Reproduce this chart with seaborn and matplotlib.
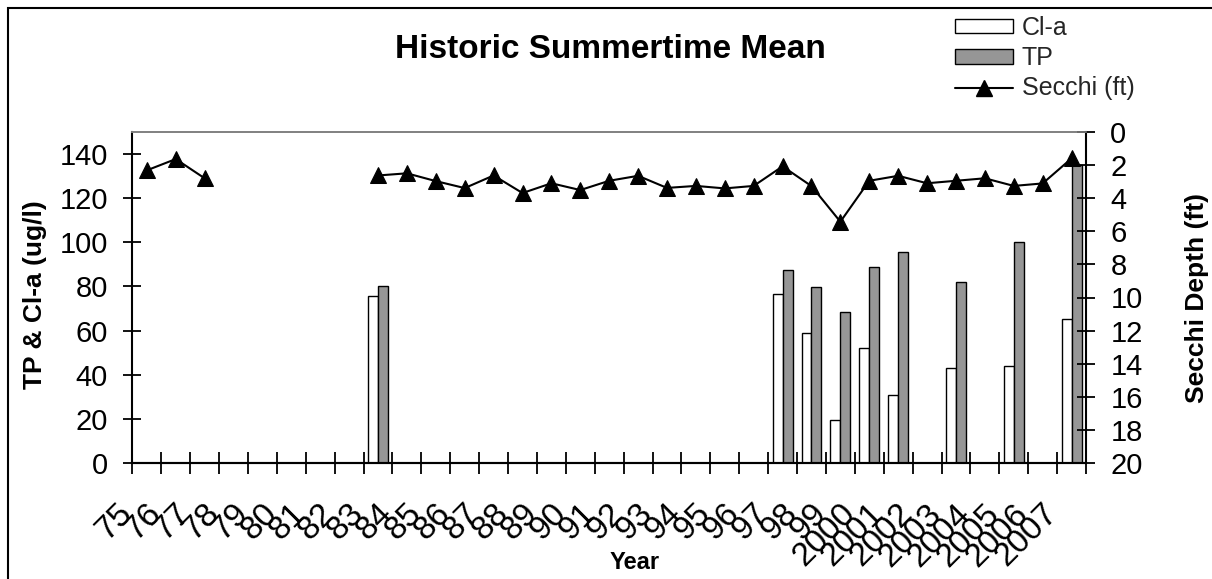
import numpy as np
import pandas as pd
import matplotlib
matplotlib.use("Agg")
import matplotlib.pyplot as plt
import matplotlib.transforms as mtransforms
from matplotlib.patches import Patch, Rectangle
from matplotlib.lines import Line2D
import seaborn as sns

# ---- data ----
years = ['75', '76', '77', '78', '79', '80', '81', '82', '83', '84', '85', '86',
         '87', '88', '89', '90', '91', '92', '93', '94', '95', '96', '97', '98',
         '99', '2000', '2001', '2002', '2003', '2004', '2005', '2006', '2007']
nan = np.nan
cla = [nan, nan, nan, nan, nan, nan, nan, nan, 75.5, nan, nan, nan,
       nan, nan, nan, nan, nan, nan, nan, nan, nan, nan, 76.6, 59.0,
       19.7, 52.1, 31.0, nan, 43.1, nan, 44.0, nan, 65.3]
tp = [nan, nan, nan, nan, nan, nan, nan, nan, 80.0, nan, nan, nan,
      nan, nan, nan, nan, nan, nan, nan, nan, nan, nan, 87.4, 79.8,
      68.4, 88.8, 95.6, nan, 82.0, nan, 100.0, nan, 135.0]
secchi = [2.33, 1.65, 2.81, nan, nan, nan, nan, nan, 2.64, 2.51, 2.98, 3.40,
          2.64, 3.70, 3.11, 3.52, 2.96, 2.66, 3.39, 3.27, 3.42, 3.27, 2.09, 3.28,
          5.43, 2.96, 2.66, 3.11, 2.96, 2.81, 3.27, 3.12, 1.61]
series_names = ['Cl-a', 'TP']
left_ticks = [0, 20, 40, 60, 80, 100, 120, 140]
right_ticks = [0, 2, 4, 6, 8, 10, 12, 14, 16, 18, 20]

# ---- tables ----
rows = []
for name, vals in zip(series_names, [cla, tp]):
    for y, v in zip(years, vals):
        if not np.isnan(v):
            rows.append({'year': y, 'series': name, 'value': v})
bar_df = pd.DataFrame(rows)

sec_rows = []
seg = 0
prev_nan = False
for y, v in zip(years, secchi):
    if np.isnan(v):
        prev_nan = True
        continue
    if prev_nan:
        seg += 1
        prev_nan = False
    sec_rows.append({'pos': years.index(y), 'secchi': v, 'seg': seg})
sec_df = pd.DataFrame(sec_rows)

# ---- style ----
sns.set_theme(style='white')
plt.rcParams['font.family'] = ['Liberation Sans', 'DejaVu Sans']
plt.rcParams.update({
    'xtick.bottom': True, 'ytick.left': True,
    'xtick.direction': 'inout', 'ytick.direction': 'inout',
    'xtick.color': 'black', 'ytick.color': 'black',
    'xtick.major.size': 16, 'ytick.major.size': 13,
    'xtick.major.width': 1.3, 'ytick.major.width': 1.3,
})

W, H = 1212, 579
fig = plt.figure(figsize=(W / 100, H / 100), dpi=100)
ax = fig.add_axes([132.4 / W, 1 - 463.3 / H, (1086 - 132.4) / W, (463.3 - 131.7) / H])

sns.barplot(data=bar_df, x='year', y='value', hue='series', order=years,
            hue_order=series_names,
            palette={'Cl-a': 'white', 'TP': '#969696'}, saturation=1,
            edgecolor='black', linewidth=1.0, width=0.69, errorbar=None,
            legend=False, ax=ax)
ax.set_xlim(-0.5, len(years) - 0.5)
ax.set_ylim(0, 150)
ax.set_yticks(left_ticks)
ax.set_yticklabels([str(t) for t in left_ticks])

# x ticks between categories, labels at centres
ax.set_xticks(np.arange(-0.5, len(years), 1.0))
ax.set_xticklabels([])
ax.set_xticks(np.arange(len(years)), labels=years, minor=True)
ax.tick_params(axis='x', which='major', direction='inout', length=16, width=1.3,
               color='black', bottom=True)
ax.tick_params(axis='x', which='minor', length=0, pad=33, labelsize=24,
               labelcolor='black', bottom=True)
offset = mtransforms.ScaledTranslation(-0.19, 0, fig.dpi_scale_trans)
for lab in ax.get_xticklabels(minor=True):
    lab.set_rotation(45)
    lab.set_ha('right')
    lab.set_va('center')
    lab.set_rotation_mode('anchor')
    lab.set_transform(lab.get_transform() + offset)

ax.set_xlabel('Year', fontsize=17, fontweight='bold', color='black')
ax.xaxis.set_label_coords((635 - 132.4) / (1086 - 132.4), (463.3 - 551) / (463.3 - 131.7))
ax.set_ylabel('TP & Cl-a (ug/l)', fontsize=19, fontweight='bold', color='black')
ax.yaxis.set_label_coords((47 - 132.4) / (1086 - 132.4), (463.3 - 295) / (463.3 - 131.7))

# ---- secchi on twin axis ----
ax2 = ax.twinx()
sns.lineplot(data=sec_df, x='pos', y='secchi', units='seg', estimator=None,
             color='black', marker='^', markersize=12, markeredgecolor='black',
             linewidth=1.5, legend=False, ax=ax2)
ax2.set_ylim(20, 0)
ax2.set_xlim(-0.5, len(years) - 0.5)
ax2.set_yticks(right_ticks)
ax2.set_yticklabels([str(t) for t in right_ticks])
ax2.tick_params(axis='x', which='both', bottom=False, top=False, labelbottom=False)
ax2.set_xlabel('')
ax2.set_ylabel('Secchi Depth (ft)', fontsize=19, fontweight='bold', color='black')
ax2.yaxis.set_label_coords((1185 - 132.4) / (1086 - 132.4), (463.3 - 298) / (463.3 - 131.7))

# y tick styling after twinx (which resets tick sides)
ax.tick_params(axis='y', which='major', direction='inout', length=13, width=1.3,
               pad=11, labelsize=21, color='black', labelcolor='black',
               left=True, right=False, labelleft=True)
ax2.tick_params(axis='y', which='major', direction='inout', length=13, width=1.3,
                pad=11, labelsize=21, color='black', labelcolor='black',
                right=True, left=False, labelright=True)

for a in (ax, ax2):
    for side in ('left', 'right', 'bottom'):
        a.spines[side].set_color('black')
        a.spines[side].set_linewidth(1.5)
    a.spines['top'].set_color('#808080')
    a.spines['top'].set_linewidth(1.2)
ax2.spines['left'].set_visible(False)
ax.spines['right'].set_visible(False)

# ---- title & legend ----
fig.text(610 / W, 1 - 50 / H, 'Historic Summertime Mean', ha='center', va='center',
         fontsize=24, fontweight='bold', color='black')

handles = [Patch(facecolor='white', edgecolor='black', linewidth=1.0),
           Patch(facecolor='#969696', edgecolor='black', linewidth=1.0),
           Line2D([], [], color='black', marker='^', markersize=12, linewidth=1.5)]
fig.legend(handles, ['Cl-a', 'TP', 'Secchi (ft)'], loc='upper left',
           bbox_to_anchor=(955 / W, 1 - 16 / H), frameon=False, fontsize=18,
           handlelength=2.3, handleheight=0.5, handletextpad=0.36,
           labelspacing=0.25, borderpad=0, borderaxespad=0)

# chart border
fig.add_artist(Rectangle((8 / W, -0.02), 1.05, 1 - 8 / H + 0.02, fill=False,
                         edgecolor='black', linewidth=1.5, transform=fig.transFigure))

fig.savefig('out.png', dpi=100)
